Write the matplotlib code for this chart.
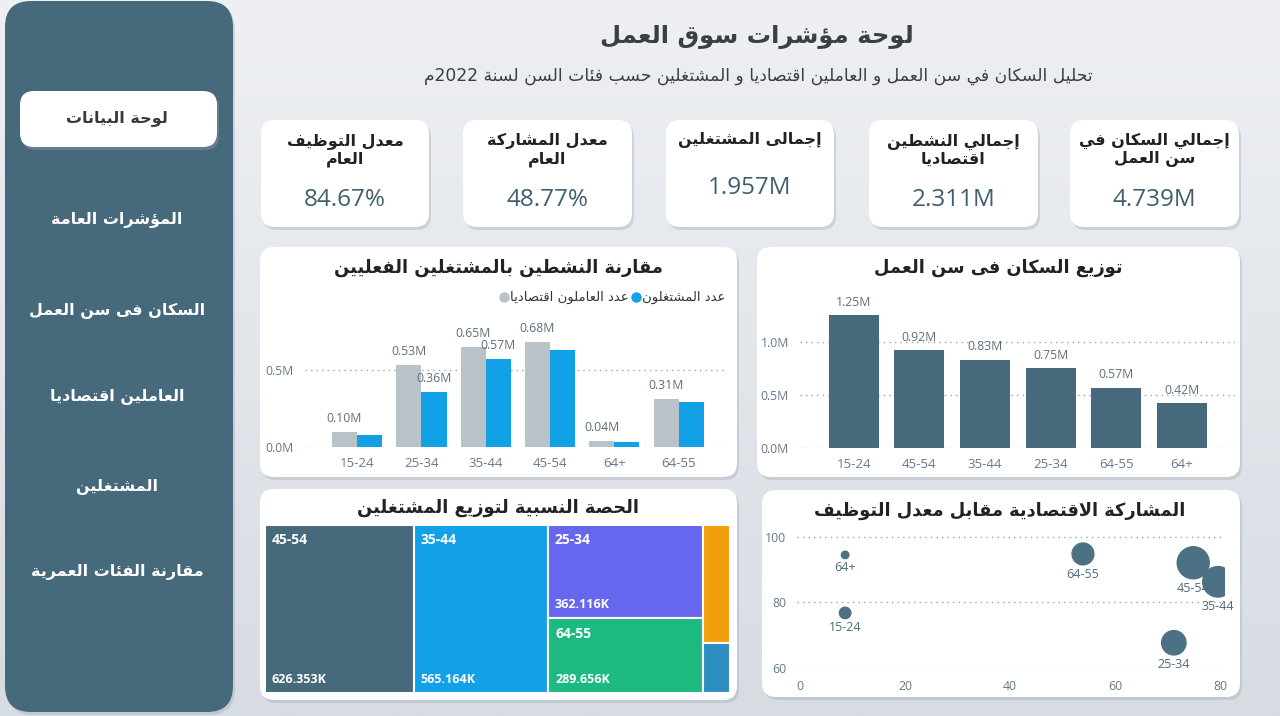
import re
import numpy as np
import matplotlib
matplotlib.use("Agg")
import matplotlib.pyplot as plt
from matplotlib.patches import FancyBboxPatch, Rectangle
from matplotlib.colors import LinearSegmentedColormap

# ---------------- data ----------------
kpi_titles = ["معدل التوظيف\nالعام", "معدل المشاركة\nالعام", "إجمالى المشتغلين",
              "إجمالي النشطين\nاقتصاديا", "إجمالي السكان في\nسن العمل"]
kpi_values = ["84.67%", "48.77%", "1.957M", "2.311M", "4.739M"]

nav_items = ["لوحة البيانات", "المؤشرات العامة", "السكان فى سن العمل",
             "العاملين اقتصاديا", "المشتغلين", "مقارنة الفئات العمرية"]

cmp_categories = ["15-24", "25-34", "35-44", "45-54", "64+", "64-55"]
cmp_active = [0.10, 0.53, 0.65, 0.68, 0.04, 0.31]        # عدد العاملون اقتصاديا
cmp_employed = [0.08, 0.36, 0.57, 0.63, 0.03, 0.29]      # عدد المشتغلون
cmp_employed_shown = [False, True, True, False, False, False]

pop_categories = ["15-24", "45-54", "35-44", "25-34", "64-55", "64+"]
pop_values = [1.25, 0.92, 0.83, 0.75, 0.57, 0.42]

tm_categories = ["45-54", "35-44", "25-34", "64-55", "15-24", "64+"]
tm_values = [626.353, 565.164, 362.116, 289.656, 80.0, 34.0]   # thousands
tm_columns = [[0], [1], [2, 3], [4, 5]]

sc_categories = ["64+", "15-24", "64-55", "45-54", "35-44", "25-34"]
sc_participation = [8.6, 8.6, 53.9, 74.9, 79.6, 71.2]
sc_employment = [94.5, 76.8, 94.8, 92.1, 86.3, 67.7]
sc_size = [34, 80, 290, 626, 565, 362]

title_text = "لوحة مؤشرات سوق العمل"
subtitle_text = "تحليل السكان في سن العمل و العاملين اقتصاديا و المشتغلين حسب فئات السن لسنة 2022م"
cmp_title = "مقارنة النشطين بالمشتغلين الفعليين"
pop_title = "توزيع السكان فى سن العمل"
tm_title = "الحصة النسبية لتوزيع المشتغلين"
sc_title = "المشاركة الاقتصادية مقابل معدل التوظيف"
legend_employed = "عدد المشتغلون"
legend_active = "عدد العاملون اقتصاديا"

# ---------------- simple Arabic shaping ----------------
_RIGHT = {'\u0622': 0xFE81, '\u0623': 0xFE83, '\u0624': 0xFE85, '\u0625': 0xFE87,
          '\u0627': 0xFE8D, '\u0629': 0xFE93, '\u062F': 0xFEA9, '\u0630': 0xFEAB,
          '\u0631': 0xFEAD, '\u0632': 0xFEAF, '\u0648': 0xFEED, '\u0649': 0xFEEF}
_DUAL = {'\u0626': 0xFE89, '\u0628': 0xFE8F, '\u062A': 0xFE95, '\u062B': 0xFE99,
         '\u062C': 0xFE9D, '\u062D': 0xFEA1, '\u062E': 0xFEA5, '\u0633': 0xFEB1,
         '\u0634': 0xFEB5, '\u0635': 0xFEB9, '\u0636': 0xFEBD, '\u0637': 0xFEC1,
         '\u0638': 0xFEC5, '\u0639': 0xFEC9, '\u063A': 0xFECD, '\u0641': 0xFED1,
         '\u0642': 0xFED5, '\u0643': 0xFED9, '\u0644': 0xFEDD, '\u0645': 0xFEE1,
         '\u0646': 0xFEE5, '\u0647': 0xFEE9, '\u064A': 0xFEF1}
_LAMALEF = {'\u0622': 0xFEF5, '\u0623': 0xFEF7, '\u0625': 0xFEF9, '\u0627': 0xFEFB}


def _shape_line(s):
    toks = []
    i = 0
    while i < len(s):
        c = s[i]
        if c == '\u0644' and i + 1 < len(s) and s[i + 1] in _LAMALEF:
            toks.append(('R', _LAMALEF[s[i + 1]]))
            i += 2
            continue
        if c in _DUAL:
            toks.append(('D', _DUAL[c]))
        elif c in _RIGHT:
            toks.append(('R', _RIGHT[c]))
        elif c == '\u0621':
            toks.append(('U', 0xFE80))
        else:
            toks.append(('N', c))
        i += 1
    out = []
    for k, (t, v) in enumerate(toks):
        if t == 'N':
            out.append(v)
            continue
        if t == 'U':
            out.append(chr(v))
            continue
        prev_join = k > 0 and toks[k - 1][0] == 'D'
        next_join = t == 'D' and k + 1 < len(toks) and toks[k + 1][0] in ('D', 'R')
        if prev_join and next_join:
            out.append(chr(v + 3))
        elif prev_join:
            out.append(chr(v + 1))
        elif next_join:
            out.append(chr(v + 2))
        else:
            out.append(chr(v))
    vis = ''.join(out)[::-1]
    vis = re.sub(r'[A-Za-z0-9.,%+\-]+', lambda m: m.group(0)[::-1], vis)
    return vis


def ar(s):
    if not re.search('[\u0600-\u06FF]', s):
        return s
    return '\n'.join(_shape_line(l) for l in s.split('\n'))


# ---------------- style ----------------
AR_FONT = ['DejaVu Sans']
NUM_FONT = ['Open Sans', 'DejaVu Sans']
SLATE = '#46697b'
BLUE = '#12a0e6'
GREY = '#b9c2c9'
TICK = '#66788a'
DARK = '#222222'

W, H = 1280, 716
fig = plt.figure(figsize=(W / 100, H / 100), dpi=100)
renderer = fig.canvas.get_renderer()

bg = fig.add_axes([0, 0, 1, 1])
bg.set_xlim(0, W)
bg.set_ylim(H, 0)
bg.axis('off')
grad = LinearSegmentedColormap.from_list('g', ['#eef0f3', '#d7dce3'])
bg.imshow(np.linspace(0, 1, 256).reshape(-1, 1), cmap=grad, aspect='auto',
          extent=[0, W, H, 0], zorder=0)


def rbox(x0, y0, x1, y1, color, r=12, shadow=True, z=1):
    if shadow:
        bg.add_patch(FancyBboxPatch((x0 + 2, y0 + 3), x1 - x0, y1 - y0,
                                    boxstyle=f"round,pad=0,rounding_size={r}",
                                    fc='#9aa6b2', ec='none', alpha=0.35, zorder=z))
    bg.add_patch(FancyBboxPatch((x0, y0), x1 - x0, y1 - y0,
                                boxstyle=f"round,pad=0,rounding_size={r}",
                                fc=color, ec='none', zorder=z + 0.1))


# sidebar
rbox(5, 1, 233, 712, SLATE, r=26, shadow=True)
rbox(20, 91, 217, 147, 'white', r=14, shadow=True, z=2)
nav_y = [118, 220, 311, 397, 487, 572]
for i, (t, y) in enumerate(zip(nav_items, nav_y)):
    bg.text(117, y, ar(t), ha='center', va='center', fontsize=11.5, fontweight='bold',
            family=AR_FONT, color='#3a3a3a' if i == 0 else 'white', zorder=5)

# header
bg.text(757, 37, ar(title_text), ha='center', va='center', fontsize=17.5,
        fontweight='bold', family=AR_FONT, color='#3a3f44', zorder=5)
bg.text(758, 76, ar(subtitle_text), ha='center', va='center', fontsize=12.3,
        family=AR_FONT, color='#3a3f44', zorder=5)

# KPI cards
card_x = [(261, 429), (463, 632), (666, 834), (869, 1038), (1070, 1239)]
for (x0, x1), t, v in zip(card_x, kpi_titles, kpi_values):
    rbox(x0, 120, x1, 227, 'white', r=14, z=2)
    cx = (x0 + x1) / 2
    single = '\n' not in t
    bg.text(cx, 140 if single else 150, ar(t), ha='center', va='center', fontsize=11.5,
            fontweight='bold', family=AR_FONT, color=DARK, linespacing=1.15, zorder=5)
    bg.text(cx, 188 if single else 200, v, ha='center', va='center', fontsize=17.5,
            family=NUM_FONT, color='#3f5e6e', zorder=5)

# panels
rbox(260, 247, 737, 477, 'white', r=14, z=2)
rbox(757, 247, 1240, 477, 'white', r=14, z=2)
rbox(260, 489, 737, 700, 'white', r=14, z=2)
rbox(762, 490, 1240, 697, 'white', r=14, z=2)

for tx, ty, tt in [(498, 268, cmp_title), (998, 268, pop_title),
                   (498, 508, tm_title), (1000, 511, sc_title)]:
    bg.text(tx, ty, ar(tt), ha='center', va='center', fontsize=12.8,
            fontweight='bold', family=AR_FONT, color=DARK, zorder=5)

# legend of comparison chart (RTL), positions chained from measured text widths
xr = 725
for lab, col in [(legend_employed, BLUE), (legend_active, GREY)]:
    t = bg.text(xr, 297, ar(lab), ha='right', va='center', fontsize=9.5,
                family=AR_FONT, color='#333333', zorder=5)
    wpx = t.get_window_extent(renderer=renderer).width
    xl = xr - wpx
    bg.scatter([xl - 6], [297], s=42, color=col, zorder=5)
    xr = xl - 13

def px_axes(x0, y0, x1, y1):
    a = fig.add_axes([x0 / W, 1 - y1 / H, (x1 - x0) / W, (y1 - y0) / H])
    a.set_zorder(10)
    a.patch.set_alpha(0)
    for s in a.spines.values():
        s.set_visible(False)
    return a


def style_axes(a):
    a.tick_params(axis='both', length=0, colors=TICK, labelsize=8.8)
    a.grid(axis='y', linestyle=(0, (1, 3)), color='#9aa4ad', linewidth=1)
    a.set_axisbelow(True)
    for lb in a.get_xticklabels() + a.get_yticklabels():
        lb.set_family(NUM_FONT)


def mfmt(v, _=None):
    return f"{v:.1f}M"


# ---- comparison grouped bars ----
ax1 = px_axes(305, 315, 725, 447)
x = np.arange(len(cmp_categories))
bw = 0.39
ax1.bar(x - bw / 2, cmp_active, bw, color=GREY)
ax1.bar(x + bw / 2, cmp_employed, bw, color=BLUE)
ax1.set_xlim(-0.81, 5.72)
ax1.set_ylim(0, 0.857)
ax1.set_yticks([0, 0.5])
ax1.yaxis.set_major_formatter(plt.FuncFormatter(mfmt))
ax1.set_xticks(x)
ax1.set_xticklabels(cmp_categories)
ax1.tick_params(axis='x', pad=7)
ax1.tick_params(axis='y', pad=8)
style_axes(ax1)
ax1.tick_params(axis='x', labelsize=9.5)
for xi, v in zip(x, cmp_active):
    ax1.annotate(f"{v:.2f}M", (xi - bw / 2, v), xytext=(0, 5), textcoords='offset points',
                 ha='center', va='bottom', fontsize=8.8, color='#5f6f7a', family=NUM_FONT)
for xi, v, sh in zip(x, cmp_employed, cmp_employed_shown):
    if sh:
        ax1.annotate(f"{v:.2f}M", (xi + bw / 2, v), xytext=(0, 5), textcoords='offset points',
                     ha='center', va='bottom', fontsize=8.8, color='#5f6f7a', family=NUM_FONT)

# ---- population bars ----
ax2 = px_axes(800, 300, 1235, 448)
x2 = np.arange(len(pop_categories))
ax2.bar(x2, pop_values, 0.76, color=SLATE)
ax2.set_xlim(-0.82, 5.81)
ax2.set_ylim(0, 1.396)
ax2.set_yticks([0, 0.5, 1.0])
ax2.yaxis.set_major_formatter(plt.FuncFormatter(mfmt))
ax2.set_xticks(x2)
ax2.set_xticklabels(pop_categories)
ax2.tick_params(axis='x', pad=7)
ax2.tick_params(axis='y', pad=8)
style_axes(ax2)
ax2.tick_params(axis='x', labelsize=9.5)
for xi, v in zip(x2, pop_values):
    ax2.annotate(f"{v:.2f}M", (xi, v), xytext=(0, 5), textcoords='offset points',
                 ha='center', va='bottom', fontsize=8.8, color='#5f6f7a', family=NUM_FONT)

# ---- treemap ----
ax3 = px_axes(265, 525, 730, 693)
ax3.set_xlim(0, 1)
ax3.set_ylim(1, 0)
ax3.set_xticks([])
ax3.set_yticks([])
tm_colors = [SLATE, BLUE, '#6666ee', '#1cba80', '#f29f0c', '#2c8ec0']
total = sum(tm_values)
cx0 = 0.0
for col in tm_columns:
    csum = sum(tm_values[i] for i in col)
    cw = csum / total
    cy0 = 0.0
    for i in col:
        ch = tm_values[i] / csum
        ax3.add_patch(Rectangle((cx0, cy0), cw, ch, fc=tm_colors[i], ec='white', lw=1.5))
        if cw > 0.15:
            ax3.annotate(tm_categories[i], (cx0, cy0), xytext=(5, -6), textcoords='offset points',
                         ha='left', va='top', fontsize=10, fontweight='bold', color='white',
                         family=NUM_FONT)
            ax3.annotate(f"{tm_values[i]:.3f}K", (cx0, cy0 + ch), xytext=(5, 5),
                         textcoords='offset points', ha='left', va='bottom', fontsize=9,
                         fontweight='bold', color='white', family=NUM_FONT)
        cy0 += ch
    cx0 += cw

# ---- scatter ----
ax4 = px_axes(797, 530, 1225, 668)
ax4.set_xlim(-0.57, 80.95)
ax4.set_ylim(60, 102.1)
sizes = np.array(sc_size) * 0.85
ax4.scatter(sc_participation, sc_employment, s=sizes, color='#4d7184', zorder=3,
            clip_on=True)
ax4.set_xticks([0, 20, 40, 60, 80])
ax4.set_yticks([60, 80, 100])
style_axes(ax4)
ax4.tick_params(axis='x', pad=9)
ax4.tick_params(axis='y', pad=8)
for cx, cy, s, lab in zip(sc_participation, sc_employment, sizes, sc_categories):
    r = np.sqrt(s) / 2
    ax4.annotate(lab, (cx, cy), xytext=(0, -r - 2), textcoords='offset points',
                 ha='center', va='top', fontsize=9, color='#4f6a78', family=NUM_FONT,
                 annotation_clip=False)

fig.savefig('out.png', dpi=100)
